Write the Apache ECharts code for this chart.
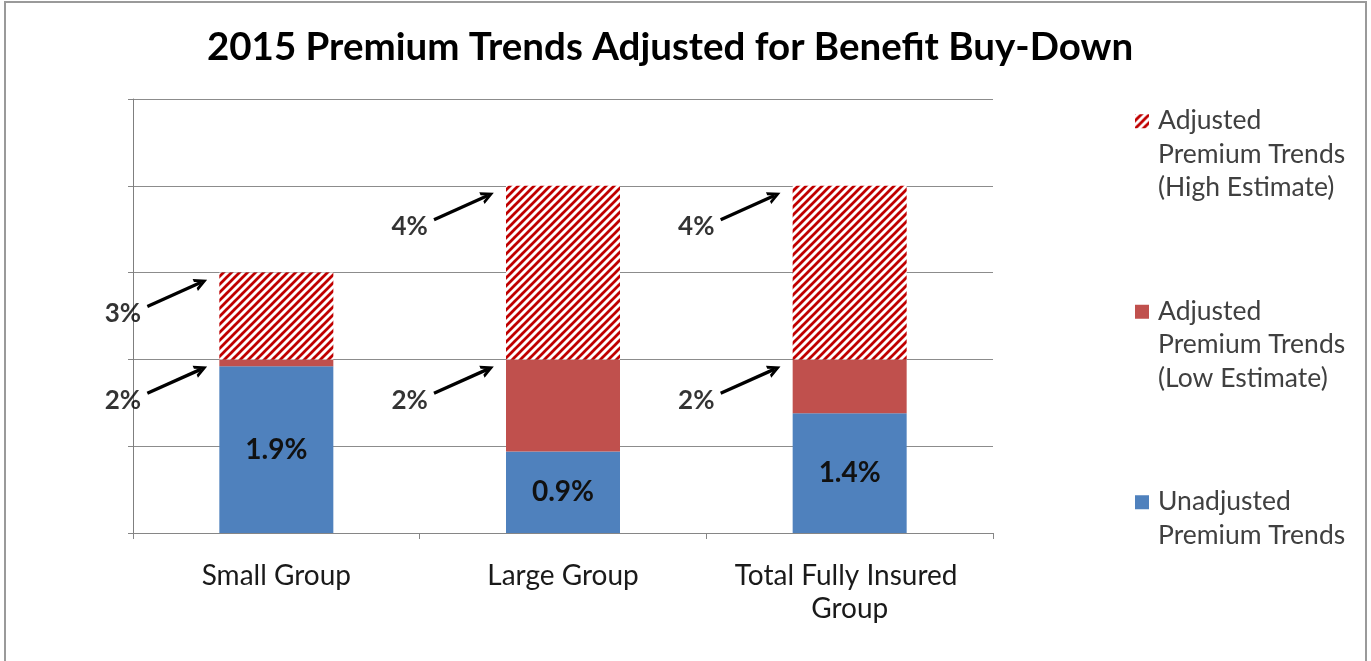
<!DOCTYPE html>
<html><head><meta charset="utf-8">
<script src="https://cdn.jsdelivr.net/npm/echarts@6/dist/echarts.min.js"></script>
<style>
html,body{margin:0;padding:0;background:#fff}
#c{position:absolute;left:0;top:0;width:1371px;height:661px}
#frame{position:absolute;left:4px;top:1px;width:1359px;height:700px;border:2px solid #9a9a9a;pointer-events:none}
</style>
</head><body><div id="c"></div><div id="frame"></div>
<script>
// ---- data ----
const chartTitle = '2015 Premium Trends Adjusted for Benefit Buy-Down';
const categories = ['Small Group', 'Large Group', 'Total Fully Insured Group'];
const seriesNames = ['Unadjusted Premium Trends', 'Adjusted Premium Trends (Low Estimate)', 'Adjusted Premium Trends (High Estimate)'];
const legendLabels = ['Unadjusted\nPremium Trends\n ', 'Adjusted\nPremium Trends\n(Low Estimate)', 'Adjusted\nPremium Trends\n(High Estimate)'];
const unadjusted = [1.92, 0.94, 1.38];
const lowEstimate = [0.08, 1.06, 0.62];
const highEstimate = [1.0, 2.0, 2.0];
const yMin = 0, yMax = 5, yInterval = 1;

// ---- styling constants (arrow offsets relative to the bar they point at) ----
const HEAD_DX = -0.262, HEAD_DY = -0.112;
const TAIL_DX = -0.45, TAIL_DY = -0.39;
const LABEL_DX = -0.535, LABEL_DY = -0.47;
const FONT = 'Lato';

// hatch pattern
const hatch = document.createElement('canvas');
hatch.width = 8; hatch.height = 8;
(function () {
  const g = hatch.getContext('2d');
  g.fillStyle = '#ffffff'; g.fillRect(0, 0, 8, 8);
  g.strokeStyle = '#C00000'; g.lineWidth = 2.8; g.lineCap = 'square';
  g.beginPath();
  g.moveTo(-1, 9); g.lineTo(9, -1);
  g.moveTo(-1, 1); g.lineTo(1, -1);
  g.moveTo(7, 9); g.lineTo(9, 7);
  g.stroke();
})();

// arrows + their labels derived from cumulative bar levels
const arrowData = [], arrowLabels = [];
categories.forEach((c, i) => {
  const lowTop = unadjusted[i] + lowEstimate[i];
  const highTop = lowTop + highEstimate[i];
  [lowTop, highTop].forEach(level => {
    arrowData.push({ coords: [[i + TAIL_DX, level + TAIL_DY], [i + HEAD_DX, level + HEAD_DY]] });
    arrowLabels.push([i + LABEL_DX, level + LABEL_DY, Math.round(level) + '%']);
  });
});

const chevron = 'path://M0,12L7,0L14,12L10.6,12L7,5.8L3.4,12Z';
const legendIcon = 'path://M0,0M18,99M0,9.5h14v14h-14z';
const legendMap = {};
seriesNames.forEach((n, i) => legendMap[n] = legendLabels[i]);

const chart = echarts.init(document.getElementById('c'));
chart.setOption({
  animation: false,
  backgroundColor: '#ffffff',
  title: {
    text: chartTitle, left: 665, top: 23, textAlign: 'center',
    textStyle: { fontFamily: FONT, fontWeight: 'bold', fontSize: 38.5, color: '#000' }
  },
  legend: {
    data: [seriesNames[2], seriesNames[1], seriesNames[0]],
    orient: 'vertical', left: 1130, top: 99, itemWidth: 18, itemHeight: 99, itemGap: 90,
    icon: legendIcon, selectedMode: false,
    formatter: n => legendMap[n],
    textStyle: { fontFamily: FONT, fontSize: 26.5, lineHeight: 33.5, color: '#404040' }
  },
  grid: { left: 133, right: 378, top: 99, bottom: 128, containLabel: false },
  xAxis: [{
    type: 'category', data: categories,
    axisLine: { lineStyle: { color: '#868686', width: 1 } },
    axisTick: { show: true, length: 6, lineStyle: { color: '#868686' } },
    axisLabel: { fontFamily: FONT, fontSize: 28, color: '#1a1a1a', margin: 26, lineHeight: 33, width: 260, overflow: 'break', interval: 0 }
  }, {
    type: 'value', min: -0.5, max: 2.5, show: false
  }],
  yAxis: {
    type: 'value', min: yMin, max: yMax, interval: yInterval,
    axisLine: { show: true, onZero: false, lineStyle: { color: '#7f7f7f', width: 1 } },
    axisTick: { show: true, length: 5, lineStyle: { color: '#868686' } },
    axisLabel: { show: false },
    splitLine: { lineStyle: { color: '#8c8c8c', width: 1 } }
  },
  series: [
    {
      name: seriesNames[0], type: 'bar', stack: 's', data: unadjusted, barWidth: 114,
      itemStyle: { color: '#4F81BD' },
      label: { show: true, position: 'inside', formatter: p => p.value.toFixed(1) + '%',
        fontFamily: FONT, fontWeight: 'bold', fontSize: 28, color: '#111', textBorderWidth: 0 }
    },
    { name: seriesNames[1], type: 'bar', stack: 's', data: lowEstimate, barWidth: 114, itemStyle: { color: '#C0504D' } },
    { name: seriesNames[2], type: 'bar', stack: 's', data: highEstimate, barWidth: 114,
      itemStyle: { color: { image: hatch, repeat: 'repeat' } } },
    {
      type: 'lines', coordinateSystem: 'cartesian2d', xAxisIndex: 1, yAxisIndex: 0,
      data: arrowData, symbol: ['none', chevron], symbolSize: [15, 13],
      lineStyle: { color: '#000', width: 3.3, opacity: 1, curveness: 0 }, silent: true, z: 5
    },
    {
      type: 'scatter', xAxisIndex: 1, yAxisIndex: 0, data: arrowLabels, symbolSize: 0, clip: false, silent: true,
      itemStyle: { color: 'transparent' },
      label: { show: true, position: 'inside', formatter: p => p.value[2],
        fontFamily: FONT, fontWeight: 'bold', fontSize: 26, color: '#000', textBorderWidth: 0 }
    }
  ]
});
</script>
</body></html>
